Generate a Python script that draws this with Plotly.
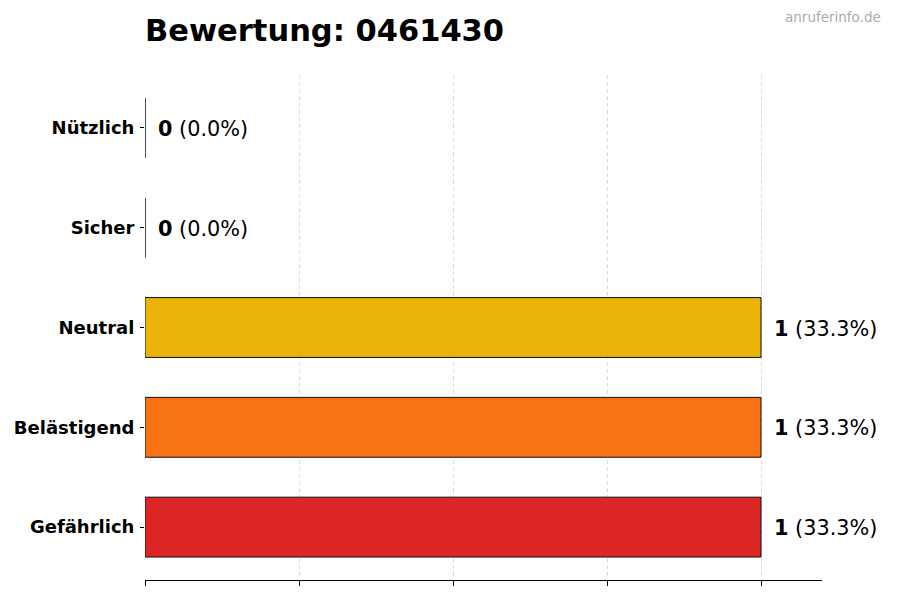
import plotly.graph_objects as go

categories = ["Gefährlich", "Belästigend", "Neutral", "Sicher", "Nützlich"]
counts = [1, 1, 1, 0, 0]
colors = ["#DC2626", "#F97316", "#EAB308", "#3B82F6", "#22C55E"]
title_text = "Bewertung: 0461430"
watermark = "anruferinfo.de"

total = sum(counts)
percents = [c / total * 100 if total else 0 for c in counts]

FONT = "DejaVu Sans"

fig = go.Figure()
fig.add_trace(go.Bar(
    x=counts, y=categories, orientation="h", width=0.6,
    marker=dict(color=colors, line=dict(color="#111111", width=1)),
    hoverinfo="skip",
))

for c, cat, p in zip(counts, categories, percents):
    fig.add_annotation(
        x=c, y=cat, xref="x", yref="y", xanchor="left", yanchor="middle",
        xshift=11, yshift=-1, showarrow=False,
        text=f"<b>{c}</b> ({p:.1f}%)",
        font=dict(family=FONT, size=20.8, color="#000000"),
    )

fig.add_annotation(
    x=(883 - 145) / (900 - 145 - 78), y=1 + (75 - 17) / (600 - 75 - 20),
    xref="paper", yref="paper", xanchor="right", yanchor="middle",
    showarrow=False,
    text=watermark, font=dict(family=FONT, size=13.5, color="#aaaaaa"),
)

fig.update_layout(
    width=900, height=600,
    margin=dict(l=145, r=78, t=75, b=20),
    paper_bgcolor="white", plot_bgcolor="white",
    showlegend=False,
    title=dict(
        text=f"<b>{title_text}</b>", x=145 / 900, xref="container", xanchor="left",
        y=1 - 30 / 600, yref="container", yanchor="middle",
        font=dict(family=FONT, size=30.5, color="#000000"),
    ),
    xaxis=dict(
        range=[0, 1.099], tickvals=[0, 0.25, 0.5, 0.75, 1.0], showticklabels=False,
        ticks="outside", ticklen=5, tickcolor="#000000", tickwidth=1,
        showline=True, linecolor="#000000", linewidth=1,
        showgrid=True, gridcolor="#dcdcdc", griddash="4px,3px", gridwidth=1,
        zeroline=False, fixedrange=True,
    ),
    yaxis=dict(
        type="category", categoryorder="array", categoryarray=categories,
        range=[-0.53, 4.53], ticks="outside", ticklen=4, tickcolor="#000000",
        showline=False, showgrid=False, zeroline=False,
        tickfont=dict(family=FONT, size=18, color="#000000", weight="bold"),
        ticklabelstandoff=2,
    ),
    font=dict(family=FONT),
)

fig.write_html("out.html")
